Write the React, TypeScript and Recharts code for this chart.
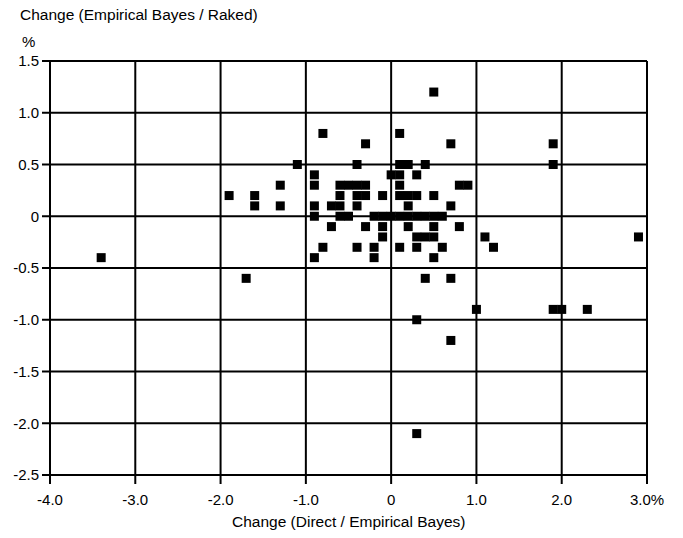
import React from 'react';
import {
  ScatterChart,
  Scatter,
  XAxis,
  YAxis,
  CartesianGrid,
} from 'recharts';

// Change (Direct / Empirical Bayes), %
const xValues = [
  -3.4, -1.9, -1.6, -1.6, -1.3, -1.3, -1.7, -1.1, -0.8, -0.3, 0.1, 0.7, 0.5, 1.9, 1.9, 2.9,
  1.0, 1.9, 2.0, 2.3, 0.3, 0.7, 0.3, 0.4, 0.7, 1.1, 1.2,
  -0.4, 0.1, 0.2, 0.4,
  -0.9, 0.0, 0.1, 0.3,
  -0.9, -0.6, -0.5, -0.4, -0.3, 0.1, 0.8, 0.9,
  -0.6, -0.4, -0.3, -0.1, 0.1, 0.2, 0.3, 0.5,
  -0.9, -0.7, -0.6, -0.4, 0.2, 0.7,
  -0.9, -0.6, -0.5, -0.2, -0.1, 0.0, 0.1, 0.2, 0.3, 0.4, 0.5, 0.6,
  -0.7, -0.3, -0.1, 0.2, 0.5, 0.8,
  -0.1, 0.3, 0.4, 0.5,
  -0.8, -0.4, -0.2, 0.1, 0.3, 0.6,
  -0.9, -0.2, 0.5,
];

// Change (Empirical Bayes / Raked), %
const yValues = [
  -0.4, 0.2, 0.2, 0.1, 0.3, 0.1, -0.6, 0.5, 0.8, 0.7, 0.8, 0.7, 1.2, 0.7, 0.5, -0.2,
  -0.9, -0.9, -0.9, -0.9, -1.0, -1.2, -2.1, -0.6, -0.6, -0.2, -0.3,
  0.5, 0.5, 0.5, 0.5,
  0.4, 0.4, 0.4, 0.4,
  0.3, 0.3, 0.3, 0.3, 0.3, 0.3, 0.3, 0.3,
  0.2, 0.2, 0.2, 0.2, 0.2, 0.2, 0.2, 0.2,
  0.1, 0.1, 0.1, 0.1, 0.1, 0.1,
  0.0, 0.0, 0.0, 0.0, 0.0, 0.0, 0.0, 0.0, 0.0, 0.0, 0.0, 0.0,
  -0.1, -0.1, -0.1, -0.1, -0.1, -0.1,
  -0.2, -0.2, -0.2, -0.2,
  -0.3, -0.3, -0.3, -0.3, -0.3, -0.3,
  -0.4, -0.4, -0.4,
];

const xTicks = [-4, -3, -2, -1, 0, 1, 2, 3];
const yTicks = [-2.5, -2, -1.5, -1, -0.5, 0, 0.5, 1, 1.5];

const yTitle = 'Change (Empirical Bayes / Raked)';
const yUnit = '%';
const xTitle = 'Change (Direct / Empirical Bayes)';

const points = xValues.map((x, i) => ({ x, y: yValues[i] }));

const FONT = '"Liberation Sans", Arial, Helvetica, sans-serif';

function SquareMarker(props: any) {
  const { cx, cy } = props;
  if (cx == null || cy == null) return null;
  return <rect x={cx - 4.5} y={cy - 4.5} width={9} height={9} fill="#000" />;
}

function fmtX(v: number) {
  if (v === 0) return '0';
  if (v === 3) return '3.0%';
  return v.toFixed(1);
}

function fmtY(v: number) {
  if (v === 0) return '0';
  return v.toFixed(1);
}

export default function App() {
  return (
    <div style={{ position: 'absolute', left: 0, top: 0, width: 683, height: 538, background: '#fff', fontFamily: FONT }}>
      <div style={{ position: 'absolute', left: 20, top: 6, fontSize: 15.5, color: '#000', whiteSpace: 'nowrap' }}>{yTitle}</div>
      <div style={{ position: 'absolute', left: 22, top: 33, fontSize: 15, color: '#000' }}>{yUnit}</div>
      <ScatterChart
        width={683}
        height={538}
        margin={{ top: 61, right: 36, bottom: 0, left: 0 }}
      >
        <CartesianGrid stroke="#000" strokeWidth={2} horizontalValues={yTicks} verticalValues={xTicks} />
        <XAxis
          type="number"
          dataKey="x"
          domain={[-4, 3]}
          ticks={xTicks}
          tickFormatter={fmtX}
          height={63}
          tickSize={9}
          tickMargin={10}
          axisLine={{ stroke: '#000', strokeWidth: 2 }}
          tickLine={{ stroke: '#000', strokeWidth: 2 }}
          tick={{ fill: '#000', fontSize: 15, fontFamily: FONT }}
          allowDataOverflow
        />
        <YAxis
          type="number"
          dataKey="y"
          domain={[-2.5, 1.5]}
          ticks={yTicks}
          tickFormatter={fmtY}
          width={50}
          tickSize={8}
          tickMargin={3}
          axisLine={{ stroke: '#000', strokeWidth: 2 }}
          tickLine={{ stroke: '#000', strokeWidth: 2 }}
          tick={{ fill: '#000', fontSize: 15, fontFamily: FONT }}
          allowDataOverflow
        />
        <Scatter data={points} fill="#000" shape={SquareMarker} isAnimationActive={false} />
      </ScatterChart>
      <div style={{ position: 'absolute', left: 232, top: 513, fontSize: 15.5, color: '#000', whiteSpace: 'nowrap' }}>{xTitle}</div>
    </div>
  );
}
